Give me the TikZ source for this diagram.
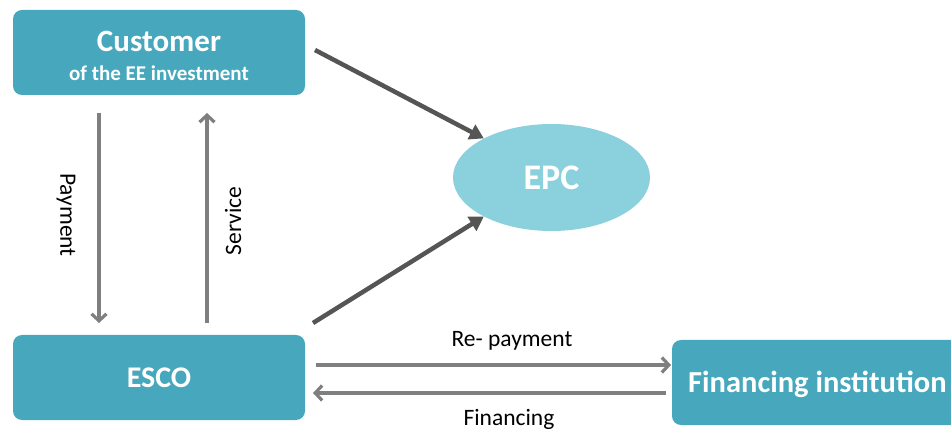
\documentclass[tikz,border=0pt]{standalone}
\usepackage{fontspec}
\setmainfont{Carlito}
\usetikzlibrary{arrows.meta,shapes.geometric}
\definecolor{boxteal}{HTML}{46A7BD}
\definecolor{epcblue}{HTML}{8BD1DD}
\definecolor{darkarrow}{HTML}{555555}
\definecolor{lightarrow}{HTML}{7F7F7F}
\tikzset{
  x=1pt, y=-1pt,
  party/.style={fill=boxteal, rounded corners=9pt, text=white, font=\bfseries, inner sep=0pt},
  heavy/.style={draw=darkarrow, line width=4.5pt, -{Triangle[length=14pt,width=16pt]}},
  flow/.style={draw=lightarrow, line width=3.4pt, -{Straight Barb[length=7pt,width=15pt,line width=3.2pt]}},
  lbl/.style={font=\fontsize{23.5}{26}\selectfont, text=black, inner sep=0pt}
}
\begin{document}
\begin{tikzpicture}
\useasboundingbox (0,0) rectangle (951,430);
\clip (0,0) rectangle (951,430);

% actors
\node[party, minimum width=292pt, minimum height=85pt] (cust) at (159,52.5) {};
\node[text=white, font=\bfseries\fontsize{31}{34}\selectfont, inner sep=0pt] (custA) at (159,41) {Customer};
\node[text=white, font=\bfseries\fontsize{21}{24}\selectfont, inner sep=0pt] (custB) at (159,73) {of the EE investment};

\node[party, minimum width=292pt, minimum height=85pt, font=\bfseries\fontsize{30}{33}\selectfont] (esco) at (159,377.5) {ESCO};

\node[party, minimum width=300pt, minimum height=85pt] (fin) at (822,382.5) {};
\node[text=white, font=\bfseries\fontsize{30.5}{33}\selectfont, anchor=west, inner sep=0pt] (finT) at (688,384) {Financing institution};

\node[ellipse, fill=epcblue, minimum width=197pt, minimum height=107pt, text=white,
      font=\bfseries\fontsize{36}{38}\selectfont, inner sep=0pt] (epc) at (551.5,177.5) {EPC};

% contract links
\coordinate (c1) at (315,50);
\coordinate (c2) at (313,323);
\draw[heavy] (c1) -- (epc.150);
\draw[heavy] (c2) -- (epc.210);

% customer / ESCO exchange
\coordinate (p1) at (99,113);
\coordinate (p2) at (99,323);
\coordinate (s1) at (207,323);
\coordinate (s2) at (207,113);
\draw[flow] (p1) -- (p2);
\draw[flow] (s1) -- (s2);
\node[lbl, rotate=-90] (pay) at (66,215) {Payment};
\node[lbl, rotate=90] (serv) at (233,221) {Service};

% ESCO / financing exchange
\coordinate (r1) at (316,365);
\coordinate (r2) at (671,365);
\coordinate (f1) at (666,393);
\coordinate (f2) at (313,393);
\draw[flow] (r1) -- (r2);
\draw[flow] (f1) -- (f2);
\node[lbl] (rep) at (512,341) {Re- payment};
\node[lbl] (fing) at (509,419) {Financing};
\end{tikzpicture}
\end{document}
